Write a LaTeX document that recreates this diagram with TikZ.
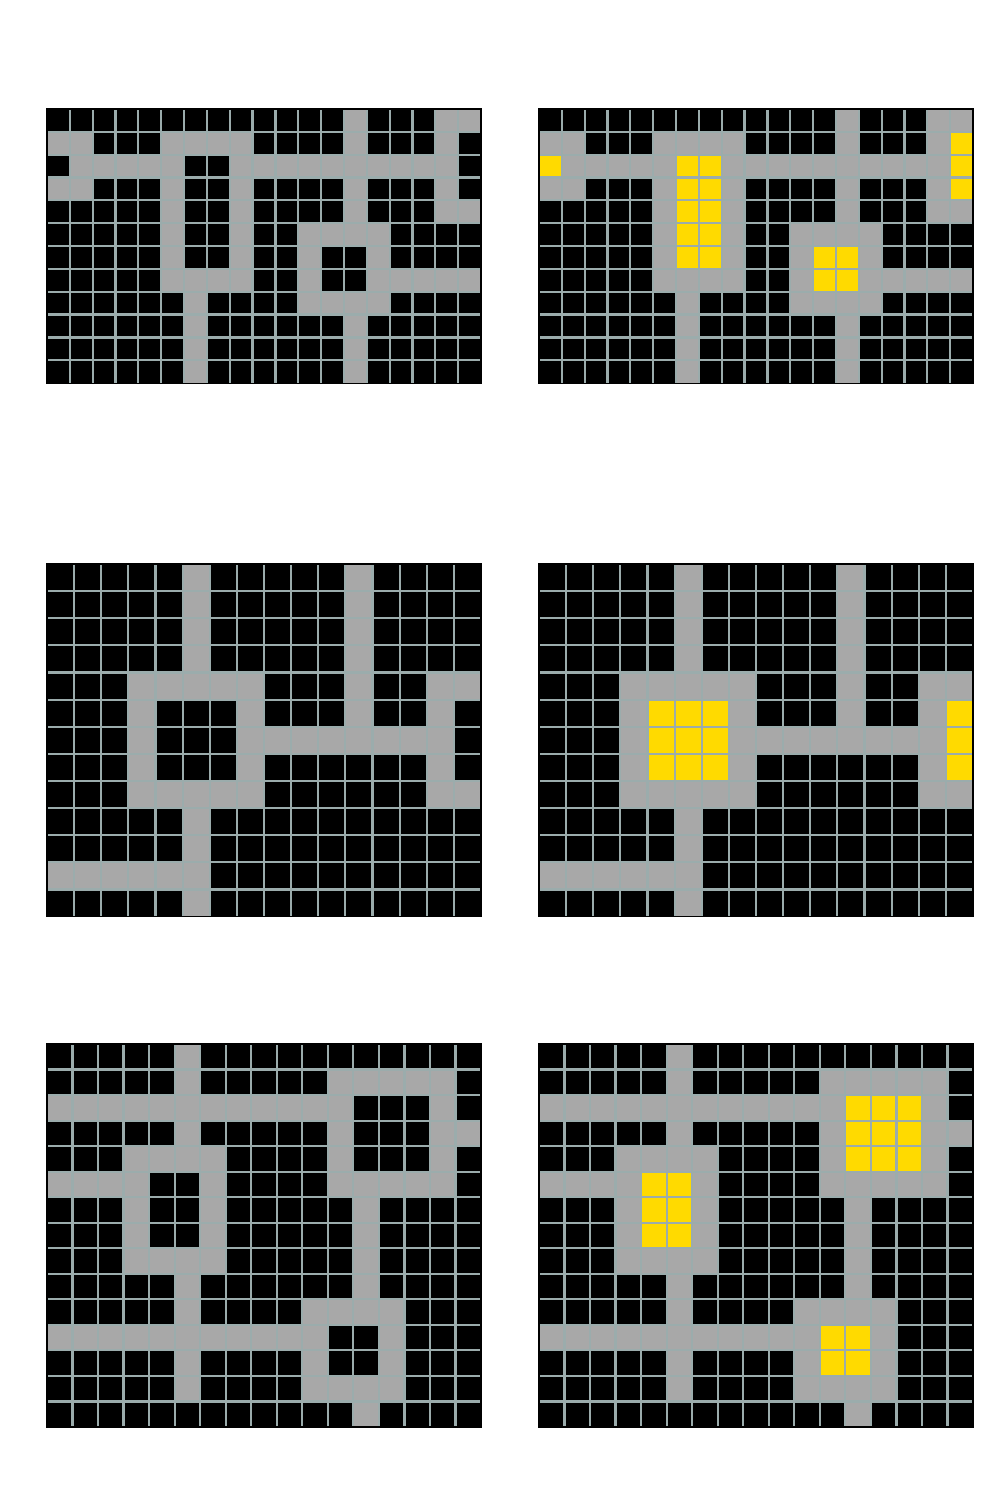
\documentclass[tikz,border=0pt]{standalone}
\usepackage{tikz}
\usepackage{xcolor}

\definecolor{cellB}{RGB}{0,0,0}
\definecolor{cellG}{RGB}{168,168,168}
\definecolor{cellY}{RGB}{255,218,0}
\definecolor{gridline}{RGB}{155,172,172}

% #1,#2 = top left corner, #3 = columns, #4 = rows, #5 = cell letters row by row
\newcommand{\mazegrid}[5]{%
  \pgfmathsetmacro{\cellsize}{434/#3}
  \foreach \row [count=\r from 0] in {#5} {
    \foreach \c [count=\k from 0] in \row {
      \fill[cell\c] ({#1+\k*\cellsize},{#2+\r*\cellsize}) rectangle ++(\cellsize,\cellsize);
    }
  }
  \foreach \k in {1,...,\numexpr#3-1\relax}
    \draw[gridlines] ({#1+\k*\cellsize},#2) -- ++(0,{#4*\cellsize});
  \foreach \r in {1,...,\numexpr#4-1\relax}
    \draw[gridlines] (#1,{#2+\r*\cellsize}) -- ++(434,0);
  \draw[border] (#1,#2) rectangle ++(434,{#4*\cellsize});
}

\begin{document}
\begin{tikzpicture}[
    x=1pt, y=-1pt,
    gridlines/.style={gridline, line width=2.2pt},
    border/.style={black, line width=1.2pt}
]
\useasboundingbox (0,0) rectangle (1000,1500);

% top: maze and filled maze
\mazegrid{47}{109}{19}{12}{
  {B,B,B,B,B,B,B,B,B,B,B,B,B,G,B,B,B,G,G},
  {G,G,B,B,B,G,G,G,G,B,B,B,B,G,B,B,B,G,B},
  {B,G,G,G,G,G,B,B,G,G,G,G,G,G,G,G,G,G,B},
  {G,G,B,B,B,G,B,B,G,B,B,B,B,G,B,B,B,G,B},
  {B,B,B,B,B,G,B,B,G,B,B,B,B,G,B,B,B,G,G},
  {B,B,B,B,B,G,B,B,G,B,B,G,G,G,G,B,B,B,B},
  {B,B,B,B,B,G,B,B,G,B,B,G,B,B,G,B,B,B,B},
  {B,B,B,B,B,G,G,G,G,B,B,G,B,B,G,G,G,G,G},
  {B,B,B,B,B,B,G,B,B,B,B,G,G,G,G,B,B,B,B},
  {B,B,B,B,B,B,G,B,B,B,B,B,B,G,B,B,B,B,B},
  {B,B,B,B,B,B,G,B,B,B,B,B,B,G,B,B,B,B,B},
  {B,B,B,B,B,B,G,B,B,B,B,B,B,G,B,B,B,B,B}}

\mazegrid{539}{109}{19}{12}{
  {B,B,B,B,B,B,B,B,B,B,B,B,B,G,B,B,B,G,G},
  {G,G,B,B,B,G,G,G,G,B,B,B,B,G,B,B,B,G,Y},
  {Y,G,G,G,G,G,Y,Y,G,G,G,G,G,G,G,G,G,G,Y},
  {G,G,B,B,B,G,Y,Y,G,B,B,B,B,G,B,B,B,G,Y},
  {B,B,B,B,B,G,Y,Y,G,B,B,B,B,G,B,B,B,G,G},
  {B,B,B,B,B,G,Y,Y,G,B,B,G,G,G,G,B,B,B,B},
  {B,B,B,B,B,G,Y,Y,G,B,B,G,Y,Y,G,B,B,B,B},
  {B,B,B,B,B,G,G,G,G,B,B,G,Y,Y,G,G,G,G,G},
  {B,B,B,B,B,B,G,B,B,B,B,G,G,G,G,B,B,B,B},
  {B,B,B,B,B,B,G,B,B,B,B,B,B,G,B,B,B,B,B},
  {B,B,B,B,B,B,G,B,B,B,B,B,B,G,B,B,B,B,B},
  {B,B,B,B,B,B,G,B,B,B,B,B,B,G,B,B,B,B,B}}

% middle
\mazegrid{47}{564}{16}{13}{
  {B,B,B,B,B,G,B,B,B,B,B,G,B,B,B,B},
  {B,B,B,B,B,G,B,B,B,B,B,G,B,B,B,B},
  {B,B,B,B,B,G,B,B,B,B,B,G,B,B,B,B},
  {B,B,B,B,B,G,B,B,B,B,B,G,B,B,B,B},
  {B,B,B,G,G,G,G,G,B,B,B,G,B,B,G,G},
  {B,B,B,G,B,B,B,G,B,B,B,G,B,B,G,B},
  {B,B,B,G,B,B,B,G,G,G,G,G,G,G,G,B},
  {B,B,B,G,B,B,B,G,B,B,B,B,B,B,G,B},
  {B,B,B,G,G,G,G,G,B,B,B,B,B,B,G,G},
  {B,B,B,B,B,G,B,B,B,B,B,B,B,B,B,B},
  {B,B,B,B,B,G,B,B,B,B,B,B,B,B,B,B},
  {G,G,G,G,G,G,B,B,B,B,B,B,B,B,B,B},
  {B,B,B,B,B,G,B,B,B,B,B,B,B,B,B,B}}

\mazegrid{539}{564}{16}{13}{
  {B,B,B,B,B,G,B,B,B,B,B,G,B,B,B,B},
  {B,B,B,B,B,G,B,B,B,B,B,G,B,B,B,B},
  {B,B,B,B,B,G,B,B,B,B,B,G,B,B,B,B},
  {B,B,B,B,B,G,B,B,B,B,B,G,B,B,B,B},
  {B,B,B,G,G,G,G,G,B,B,B,G,B,B,G,G},
  {B,B,B,G,Y,Y,Y,G,B,B,B,G,B,B,G,Y},
  {B,B,B,G,Y,Y,Y,G,G,G,G,G,G,G,G,Y},
  {B,B,B,G,Y,Y,Y,G,B,B,B,B,B,B,G,Y},
  {B,B,B,G,G,G,G,G,B,B,B,B,B,B,G,G},
  {B,B,B,B,B,G,B,B,B,B,B,B,B,B,B,B},
  {B,B,B,B,B,G,B,B,B,B,B,B,B,B,B,B},
  {G,G,G,G,G,G,B,B,B,B,B,B,B,B,B,B},
  {B,B,B,B,B,G,B,B,B,B,B,B,B,B,B,B}}

% bottom
\mazegrid{47}{1044}{17}{15}{
  {B,B,B,B,B,G,B,B,B,B,B,B,B,B,B,B,B},
  {B,B,B,B,B,G,B,B,B,B,B,G,G,G,G,G,B},
  {G,G,G,G,G,G,G,G,G,G,G,G,B,B,B,G,B},
  {B,B,B,B,B,G,B,B,B,B,B,G,B,B,B,G,G},
  {B,B,B,G,G,G,G,B,B,B,B,G,B,B,B,G,B},
  {G,G,G,G,B,B,G,B,B,B,B,G,G,G,G,G,B},
  {B,B,B,G,B,B,G,B,B,B,B,B,G,B,B,B,B},
  {B,B,B,G,B,B,G,B,B,B,B,B,G,B,B,B,B},
  {B,B,B,G,G,G,G,B,B,B,B,B,G,B,B,B,B},
  {B,B,B,B,B,G,B,B,B,B,B,B,G,B,B,B,B},
  {B,B,B,B,B,G,B,B,B,B,G,G,G,G,B,B,B},
  {G,G,G,G,G,G,G,G,G,G,G,B,B,G,B,B,B},
  {B,B,B,B,B,G,B,B,B,B,G,B,B,G,B,B,B},
  {B,B,B,B,B,G,B,B,B,B,G,G,G,G,B,B,B},
  {B,B,B,B,B,B,B,B,B,B,B,B,G,B,B,B,B}}

\mazegrid{539}{1044}{17}{15}{
  {B,B,B,B,B,G,B,B,B,B,B,B,B,B,B,B,B},
  {B,B,B,B,B,G,B,B,B,B,B,G,G,G,G,G,B},
  {G,G,G,G,G,G,G,G,G,G,G,G,Y,Y,Y,G,B},
  {B,B,B,B,B,G,B,B,B,B,B,G,Y,Y,Y,G,G},
  {B,B,B,G,G,G,G,B,B,B,B,G,Y,Y,Y,G,B},
  {G,G,G,G,Y,Y,G,B,B,B,B,G,G,G,G,G,B},
  {B,B,B,G,Y,Y,G,B,B,B,B,B,G,B,B,B,B},
  {B,B,B,G,Y,Y,G,B,B,B,B,B,G,B,B,B,B},
  {B,B,B,G,G,G,G,B,B,B,B,B,G,B,B,B,B},
  {B,B,B,B,B,G,B,B,B,B,B,B,G,B,B,B,B},
  {B,B,B,B,B,G,B,B,B,B,G,G,G,G,B,B,B},
  {G,G,G,G,G,G,G,G,G,G,G,Y,Y,G,B,B,B},
  {B,B,B,B,B,G,B,B,B,B,G,Y,Y,G,B,B,B},
  {B,B,B,B,B,G,B,B,B,B,G,G,G,G,B,B,B},
  {B,B,B,B,B,B,B,B,B,B,B,B,G,B,B,B,B}}

\end{tikzpicture}
\end{document}
